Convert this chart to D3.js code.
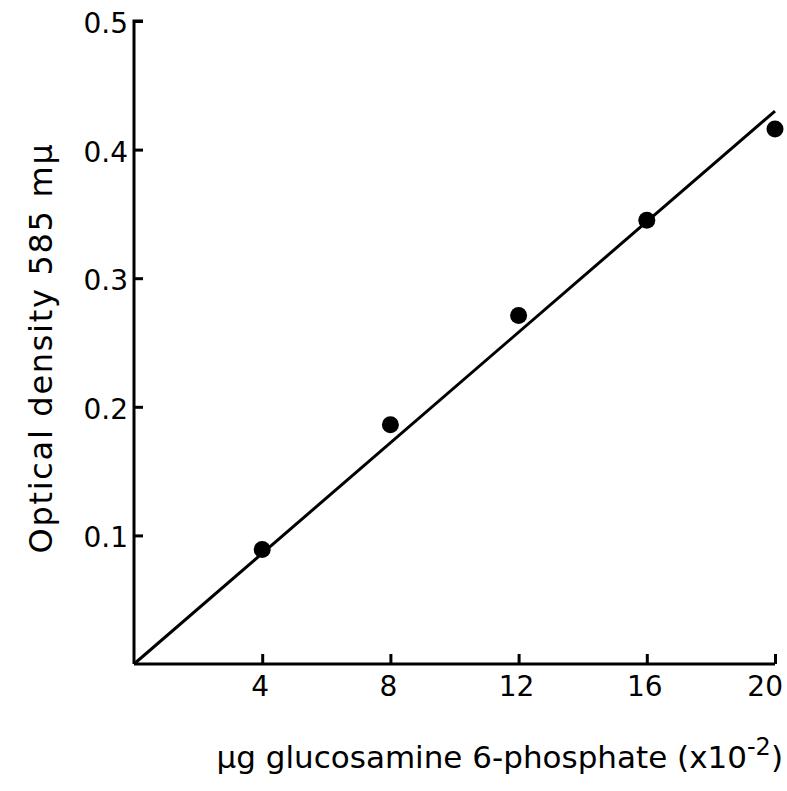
<!DOCTYPE html>
<html>
<head>
<meta charset="utf-8">
<script src="https://cdn.jsdelivr.net/npm/d3@7"></script>
<style>
  body { margin: 0; background: #fff; }
  text { font-family: "DejaVu Sans", sans-serif; fill: #000; }
</style>
</head>
<body>
<script>
// measured points (ug glucosamine 6-phosphate x10^-2 vs optical density)
const amounts = [4, 8, 12, 16, 20]
const density = [0.089, 0.186, 0.271, 0.345, 0.416]
// fitted standard line
const fitX = [0, 20]
const fitY = [0, 0.43]
const xTicks = [4, 8, 12, 16, 20]
const yTicks = [0.1, 0.2, 0.3, 0.4, 0.5]

const width = 787, height = 791

const svg = d3.select('body')
  .append('svg')
  .attr('width', width)
  .attr('height', height)

const x = d3.scaleLinear().domain([0, 20]).range([134, 775])
const y = d3.scaleLinear().domain([0, 0.5]).range([664, 21])

// axes, ticks pointing inward
const xAxis = d3.axisTop(x).tickValues(xTicks).tickSize(10).tickFormat('')
const yAxis = d3.axisRight(y).tickValues(yTicks).tickSize(9).tickFormat('')

svg.append('g')
  .attr('transform', `translate(0, ${y(0)})`)
  .call(xAxis)
  .call(g => g.select('.domain').attr('d', `M${x(0)},0H${x(20)}`))
  .call(g => g.selectAll('line, path').attr('stroke', '#000').attr('stroke-width', 3))

svg.append('g')
  .attr('transform', `translate(${x(0)}, 0)`)
  .call(yAxis)
  .call(g => g.select('.domain').attr('d', `M9,${y(0.5)}H0V${y(0)}`))
  .call(g => g.selectAll('line, path').attr('stroke', '#000').attr('stroke-width', 3).attr('fill', 'none'))

// tick labels
svg.append('g')
  .selectAll('text')
  .data(xTicks)
  .enter()
  .append('text')
  .attr('x', d => x(d) - 2)
  .attr('y', 696)
  .attr('text-anchor', 'middle')
  .style('font-size', '28px')
  .text(d => d)
  .each(function () {
    // keep the last label inside the page
    const b = this.getBBox()
    if (b.x + b.width > width - 4) {
      d3.select(this).attr('x', +d3.select(this).attr('x') - (b.x + b.width - (width - 4)))
    }
  })

svg.append('g')
  .selectAll('text')
  .data(yTicks)
  .enter()
  .append('text')
  .attr('x', x(0) - 6)
  .attr('y', d => y(d) + 12)
  .attr('text-anchor', 'end')
  .style('font-size', '28px')
  .text(d => d.toFixed(1))

// fitted line
svg.append('line')
  .attr('x1', x(fitX[0]))
  .attr('y1', y(fitY[0]))
  .attr('x2', x(fitX[1]))
  .attr('y2', y(fitY[1]))
  .attr('stroke', '#000')
  .attr('stroke-width', 3)

// data points
svg.append('g')
  .selectAll('circle')
  .data(amounts)
  .enter()
  .append('circle')
  .attr('cx', d => x(d))
  .attr('cy', (d, i) => y(density[i]))
  .attr('r', 8.5)
  .attr('fill', '#000')

// axis titles
svg.append('text')
  .attr('transform', `translate(52, 348) rotate(-90)`)
  .attr('text-anchor', 'middle')
  .style('font-size', '32px')
  .style('letter-spacing', '1.7px')
  .text('Optical density 585 m\u03bc')

const xt = svg.append('text')
  .attr('x', 783)
  .attr('y', 768)
  .attr('text-anchor', 'end')
  .style('font-size', '31px')
xt.append('tspan').text('\u03bcg  glucosamine 6-phosphate (x10')
xt.append('tspan').attr('dy', -13).style('font-size', '24px').text('-2')
xt.append('tspan').attr('dy', 13).text(')')
</script>
</body>
</html>
